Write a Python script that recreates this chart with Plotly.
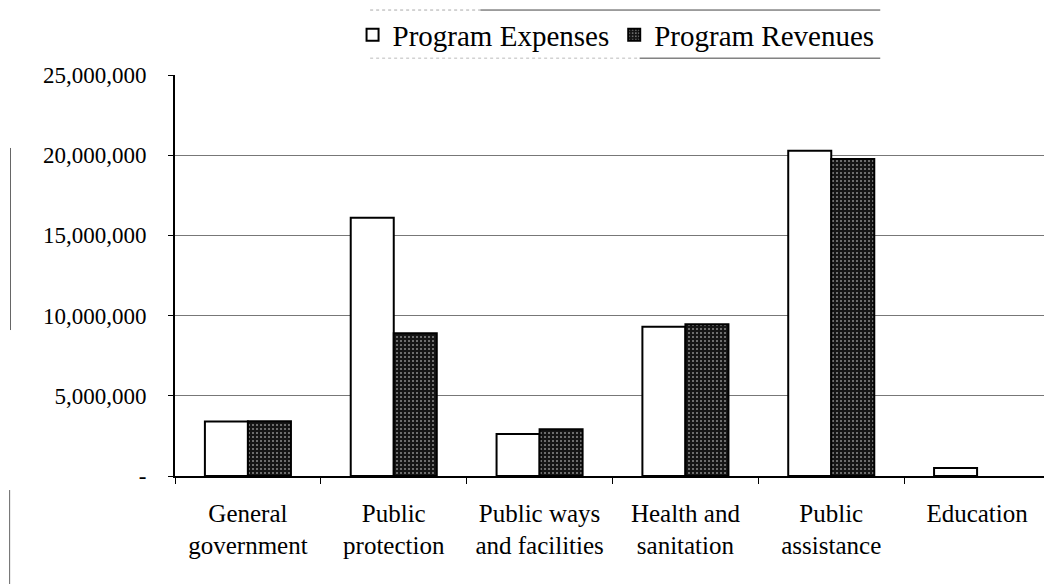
import plotly.graph_objects as go

categories = ["General<br>government", "Public<br>protection", "Public ways<br>and facilities",
              "Health and<br>sanitation", "Public<br>assistance", "Education"]
expenses = [3390000, 16100000, 2620000, 9310000, 20280000, 500000]
revenues = [3420000, 8900000, 2910000, 9460000, 19760000, None]
y_tickvals = [0, 5000000, 10000000, 15000000, 20000000, 25000000]
y_ticktext = ["-", "5,000,000", "10,000,000", "15,000,000", "20,000,000", "25,000,000"]

FONT = "Liberation Serif"

fig = go.Figure()
fig.add_trace(go.Bar(
    x=categories, y=expenses, name="Program Expenses",
    marker=dict(color="white", line=dict(color="black", width=2)),
))
fig.add_trace(go.Bar(
    x=categories, y=revenues, name="Program Revenues",
    marker=dict(color="#151515", line=dict(color="black", width=2),
                pattern=dict(shape=".", fgcolor="#8a8a8a", bgcolor="#151515",
                             size=4, solidity=0.2, fillmode="replace")),
))

fig.update_layout(
    width=1052, height=584,
    paper_bgcolor="white", plot_bgcolor="white",
    barmode="group", bargap=0.41, bargroupgap=0,
    margin=dict(l=167, r=10, t=67, b=116, autoexpand=False),
    font=dict(family=FONT, size=24, color="black"),
    showlegend=True,
    legend=dict(orientation="h", x=0.578, xanchor="center",
                xref="container", yref="paper", y=1.1, yanchor="middle",
                font=dict(family=FONT, size=29, color="black"),
                borderwidth=0, bgcolor="rgba(0,0,0,0)",
                itemwidth=30, tracegroupgap=0),
    shapes=[
        dict(type="line", xref="paper", yref="paper", x0=0.349, x1=0.806, y0=1.162, y1=1.162,
             line=dict(color="#444", width=1)),
        dict(type="line", xref="paper", yref="paper", x0=0.223, x1=0.349, y0=1.162, y1=1.162,
             line=dict(color="#aaa", width=1, dash="dot")),
        dict(type="line", xref="paper", yref="paper", x0=0.531, x1=0.806, y0=1.042, y1=1.042,
             line=dict(color="#444", width=1)),
        dict(type="line", xref="paper", yref="paper", x0=0.223, x1=0.531, y0=1.042, y1=1.042,
             line=dict(color="#bbb", width=1, dash="dot")),
        dict(type="line", xref="paper", yref="paper", x0=-0.188, x1=-0.188, y0=0.364, y1=0.818,
             line=dict(color="#666", width=1)),
        dict(type="line", xref="paper", yref="paper", x0=-0.189, x1=-0.189, y0=-0.30, y1=-0.035,
             line=dict(color="#666", width=1)),
    ],
)
fig.update_yaxes(
    range=[0, 25000000], tickvals=y_tickvals, ticktext=y_ticktext,
    showgrid=True, gridcolor="#777", gridwidth=1,
    showline=True, linecolor="black", linewidth=2,
    ticks="outside", ticklen=5, tickcolor="black",
    tickfont=dict(family=FONT, size=23, color="black"),
    ticklabelstandoff=17, automargin=False,
    zeroline=False,
)
fig.update_xaxes(
    showline=True, linecolor="black", linewidth=1.5,
    ticks="outside", tickson="boundaries", ticklen=6, tickcolor="black",
    tickfont=dict(family=FONT, size=25, color="black"),
    ticklabelstandoff=14, automargin=False,
    showgrid=False,
)

fig.write_html("out.html")
